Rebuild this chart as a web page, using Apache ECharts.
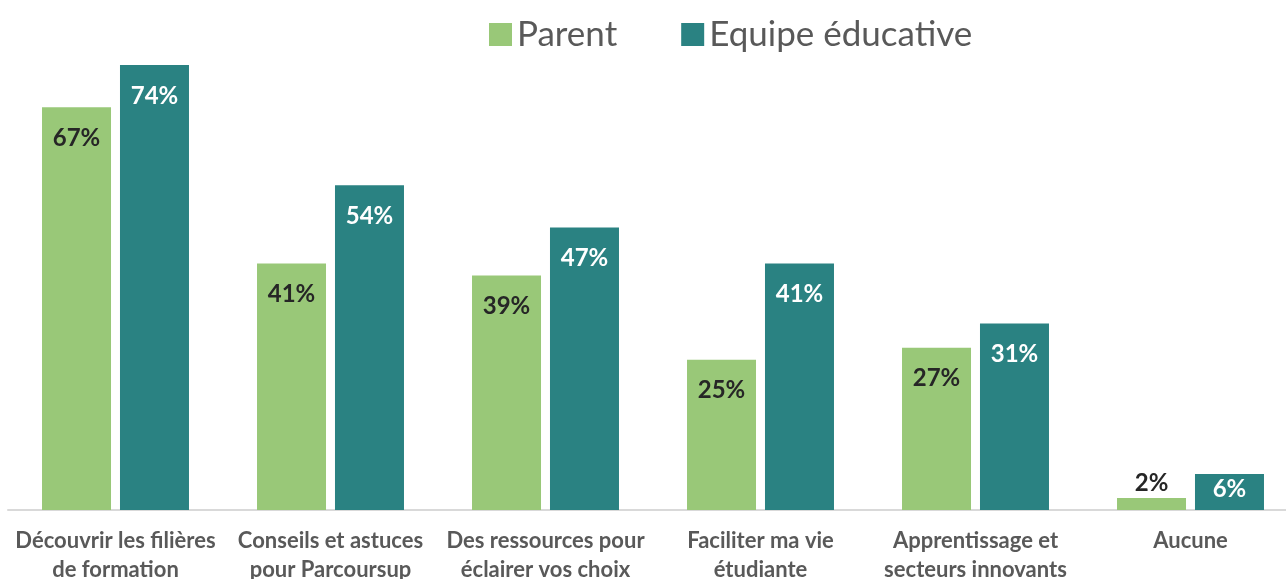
<!DOCTYPE html>
<html>
<head>
<meta charset="utf-8">
<script src="https://cdn.jsdelivr.net/npm/echarts@6/dist/echarts.min.js"></script>
<style>html,body{margin:0;padding:0;background:#fff;}#c{width:1286px;height:579px;}</style>
</head>
<body>
<div id="c"></div>
<script>
const categories = [
  "Découvrir les filières\nde formation",
  "Conseils et astuces\npour Parcoursup",
  "Des ressources pour\néclairer vos choix",
  "Faciliter ma vie\nétudiante",
  "Apprentissage et\nsecteurs innovants",
  "Aucune"
];
const seriesNames = ["Parent", "Equipe éducative"];
const parentValues = [67, 41, 39, 25, 27, 2];
const equipeValues = [74, 54, 47, 41, 31, 6];

const FONT = "Lato, 'Open Sans', sans-serif";

function mkData(vals) {
  return vals.map(v => {
    if (v < 5) {
      return { value: v, label: { position: 'top', distance: 3, color: '#262626' } };
    }
    if (v < 10) {
      return { value: v, label: { position: 'insideTop', distance: 3 } };
    }
    return v;
  });
}

const chart = echarts.init(document.getElementById('c'));
chart.setOption({
  animation: false,
  textStyle: { fontFamily: FONT },
  legend: {
    data: seriesNames,
    left: 484,
    top: 12,
    itemWidth: 23,
    itemHeight: 23,
    itemGap: 64,
    icon: 'rect',
    textStyle: { fontSize: 35, color: '#595959', fontFamily: FONT }
  },
  grid: { left: 8, top: 29, width: 1290, bottom: 69, containLabel: false, outerBoundsMode: 'none' },
  xAxis: {
    type: 'category',
    data: categories,
    axisLine: { lineStyle: { color: '#d9d9d9', width: 2 } },
    axisTick: { show: false },
    axisLabel: {
      interval: 0,
      margin: 16,
      fontSize: 22,
      fontWeight: 'bold',
      color: '#595959',
      lineHeight: 29,
      fontFamily: FONT
    }
  },
  yAxis: {
    type: 'value',
    min: 0,
    max: 80,
    show: false,
    splitLine: { show: false }
  },
  series: [
    {
      name: seriesNames[0],
      type: 'bar',
      barWidth: 69,
      barGap: '13%',
      itemStyle: { color: '#99C878' },
      label: {
        show: true,
        position: 'insideTop',
        distance: 19,
        formatter: '{c}%',
        fontSize: 24,
        fontWeight: 'bold',
        color: '#262626',
        fontFamily: FONT
      },
      data: mkData(parentValues)
    },
    {
      name: seriesNames[1],
      type: 'bar',
      barWidth: 69,
      barGap: '13%',
      itemStyle: { color: '#2A8282' },
      label: {
        show: true,
        position: 'insideTop',
        distance: 19,
        formatter: '{c}%',
        fontSize: 24,
        fontWeight: 'bold',
        color: '#ffffff',
        fontFamily: FONT
      },
      data: mkData(equipeValues)
    }
  ]
});
</script>
</body>
</html>
